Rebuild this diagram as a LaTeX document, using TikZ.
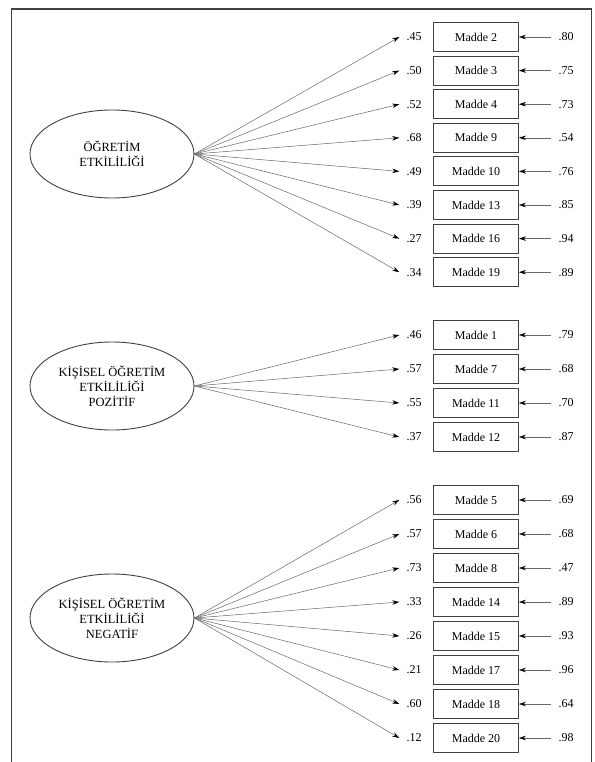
\documentclass[tikz,border=0pt]{standalone}
\usepackage{fontspec}
\setmainfont{Liberation Serif}
\usetikzlibrary{arrows.meta,shapes.geometric}
\begin{document}
\begin{tikzpicture}[x=1pt,y=-1pt,
  item/.style={draw=black!75,line width=0.9pt,minimum width=85pt,minimum height=29pt,inner sep=0pt,font=\fontsize{12}{14}\selectfont},
  lat/.style={ellipse,draw=black!75,line width=0.9pt,minimum width=164pt,minimum height=88pt,inner sep=0pt,align=center,font=\fontsize{12.5}{15}\selectfont},
  val/.style={inner ysep=0pt,inner xsep=7pt,font=\fontsize{12}{14}\selectfont},
  arr/.style={draw=black!60,line width=0.5pt,-{Stealth[length=7pt,width=4.5pt,color=black]}},
]
\useasboundingbox (0,0) rectangle (594,762);
\draw[black!75,line width=1.4pt] (11.5,762) -- (11.5,9) -- (591.5,9) -- (591.5,762);

\node[lat] (f1) at (112,154) {ÖĞRETİM\\ETKİLİLİĞİ};
\node[lat] (f2) at (112,386) {KİŞİSEL ÖĞRETİM\\ETKİLİLİĞİ\\POZİTİF};
\node[lat] (f3) at (112,618) {KİŞİSEL ÖĞRETİM\\ETKİLİLİĞİ\\NEGATİF};

\foreach \n/\l/\e [count=\i from 0] in {2/.45/.80,3/.50/.75,4/.52/.73,9/.68/.54,10/.49/.76,13/.39/.85,16/.27/.94,19/.34/.89}{
  \pgfmathsetmacro{\yy}{37+33.6*\i}
  \node[item] (a\i) at (476,\yy) {Madde \n};
  \node[val] (al\i) at (414,\yy) {\l};
  \node[val] (ae\i) at (566,\yy) {\e};
  \draw[arr] (f1.east) -- (al\i.west);
  \draw[arr] (ae\i.west) -- (a\i.east);
}
\foreach \n/\l/\e [count=\i from 0] in {1/.46/.79,7/.57/.68,11/.55/.70,12/.37/.87}{
  \pgfmathsetmacro{\yy}{335+34*\i}
  \node[item] (b\i) at (476,\yy) {Madde \n};
  \node[val] (bl\i) at (414,\yy) {\l};
  \node[val] (be\i) at (566,\yy) {\e};
  \draw[arr] (f2.east) -- (bl\i.west);
  \draw[arr] (be\i.west) -- (b\i.east);
}
\foreach \n/\l/\e [count=\i from 0] in {5/.56/.69,6/.57/.68,8/.73/.47,14/.33/.89,15/.26/.93,17/.21/.96,18/.60/.64,20/.12/.98}{
  \pgfmathsetmacro{\yy}{500+34*\i}
  \node[item] (c\i) at (476,\yy) {Madde \n};
  \node[val] (cl\i) at (414,\yy) {\l};
  \node[val] (ce\i) at (566,\yy) {\e};
  \draw[arr] (f3.east) -- (cl\i.west);
  \draw[arr] (ce\i.west) -- (c\i.east);
}
\end{tikzpicture}
\end{document}
